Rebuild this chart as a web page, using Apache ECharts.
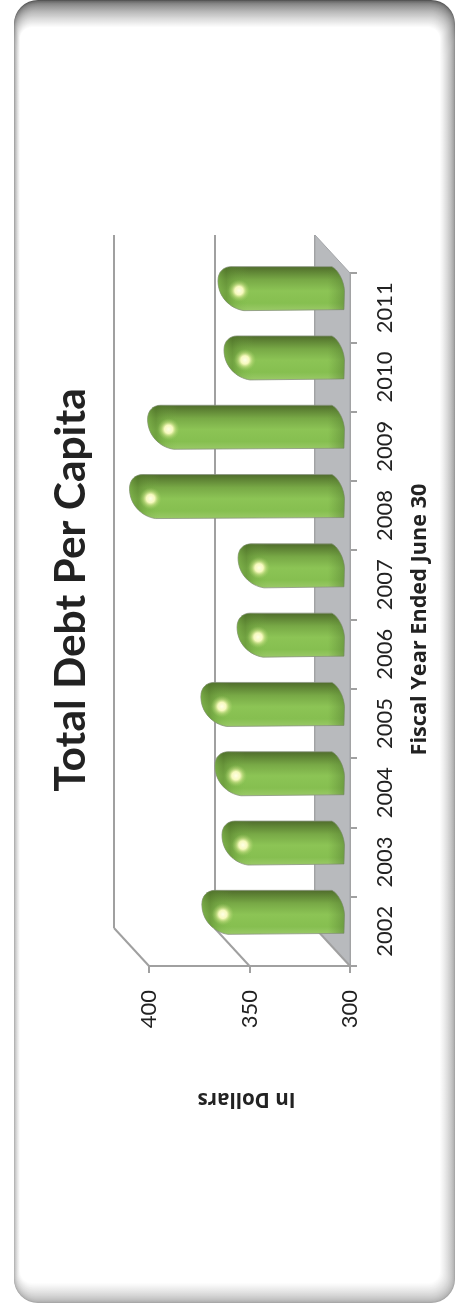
<!DOCTYPE html>
<html><head><meta charset="utf-8">
<style>html,body{margin:0;padding:0;background:#fff}#c{width:455px;height:1303px}</style>
<script src="https://cdn.jsdelivr.net/npm/echarts@6/dist/echarts.min.js"></script>
</head><body><div id="c"></div>
<script>
const categories = ['2002','2003','2004','2005','2006','2007','2008','2009','2010','2011'];
const debtPerCapita = [362, 352, 355.5, 362.5, 344.5, 344, 398, 389, 351, 354];
const valueTicks = [300, 350, 400];
const titleText = 'Total Debt Per Capita';
const xName = 'Fiscal Year Ended June 30';
const yName = 'In Dollars';

const W = 455, H = 1303;
const front = {x0: 149, x1: 350, y0: 273, y1: 966};
const depth = {dx: -35, dy: -38};
const mk = (dx, dy) => ({left: front.x0 + dx, width: front.x1 - front.x0, top: front.y0 + dy, height: front.y1 - front.y0});

function barItem(params, api) {
  const v = api.value(0), c = api.value(1);
  const p = api.coord([v, c]);
  const base = params.coordSys.x + params.coordSys.width + 11.5;
  const tip = p[0] - 6;
  const h = 44, top = p[1] - h / 2, bot = top + h;
  const d = `M${tip + 13} ${top}
    L${base - 12} ${top} C${base - 6} ${top + 3} ${base} ${top + 14} ${base + 0.5} ${top + 24}
    L${base} ${bot - 1} L${tip + 26} ${bot}
    C${tip + 12} ${bot - 2} ${tip} ${top + 30} ${tip} ${top + 14}
    C${tip} ${top + 5} ${tip + 6} ${top} ${tip + 13} ${top} Z`;
  const shape = {pathData: d, layout: 'cover', x: tip, y: top, width: base + 0.5 - tip, height: h};
  return {type: 'group', children: [
    {type: 'path', shape, style: {
      stroke: '#8a9480', lineWidth: 0.8,
      fill: new echarts.graphic.LinearGradient(0, 0, 0, 1, [
        {offset: 0, color: '#4f6a2c'}, {offset: 0.1, color: '#5c8033'}, {offset: 0.3, color: '#78a946'},
        {offset: 0.55, color: '#8cc455'}, {offset: 0.82, color: '#86bf50'}, {offset: 1, color: '#9bca68'}])}},
    {type: 'path', shape, style: {
      fill: new echarts.graphic.LinearGradient(tip, 0, tip + 30, 0, [
        {offset: 0, color: 'rgba(120,170,70,0.6)'}, {offset: 0.28, color: 'rgba(80,120,40,0.45)'},
        {offset: 0.6, color: 'rgba(100,150,55,0.18)'}, {offset: 1, color: 'rgba(120,180,70,0)'}], true)}},
    {type: 'path', shape, style: {
      fill: new echarts.graphic.LinearGradient(base - 16, 0, base, 0, [
        {offset: 0, color: 'rgba(90,130,50,0)'}, {offset: 1, color: 'rgba(85,125,50,0.5)'}], true)}},
    {type: 'circle', shape: {cx: tip + 21, cy: top + 24, r: 11}, style: {
      fill: new echarts.graphic.RadialGradient(0.5, 0.5, 0.5, [
        {offset: 0, color: 'rgba(255,255,230,1)'}, {offset: 0.38, color: 'rgba(252,252,195,0.95)'},
        {offset: 0.65, color: 'rgba(220,235,150,0.45)'}, {offset: 1, color: 'rgba(170,210,110,0)'}])}}
  ]};
}

function floorItem(params, api) {
  const cs = params.coordSys, x = cs.x + cs.width, y0 = cs.y, y1 = cs.y + cs.height;
  return {type: 'polygon', shape: {points: [[x, y1], [x, y0], [x + depth.dx, y0 + depth.dy], [x + depth.dx, y1 + depth.dy]]},
    style: {fill: '#b8babd', stroke: '#a3a5a8', lineWidth: 1}};
}
function diagItem(params, api) {
  const p = api.coord([api.value(0), 0]);
  const y1 = params.coordSys.y + params.coordSys.height;
  return {type: 'line', shape: {x1: p[0], y1: y1, x2: p[0] + depth.dx, y2: y1 + depth.dy},
    style: {stroke: '#a0a0a0', lineWidth: 2}};
}

// soft bevelled frame: concentric rounded rectangles fading to white
function mix(g, t) { const c = Math.round(g + (255 - g) * t); return `rgb(${c},${c},${c})`; }
const frame = [];
const STEPS = 28;
for (let i = 0; i <= STEPS; i++) {
  const t = i / STEPS, e = Math.pow(t, 0.62);
  const l = 14 + t * 6, tp = t * 27, r = t * 15, b = t * 20;
  frame.push({type: 'rect', z: -10, silent: true,
    shape: {x: l, y: tp, width: W - l - r, height: H - tp - b, r: Math.max(6, 24 - t * 12)},
    style: {fill: new echarts.graphic.LinearGradient(0, 0, 0, 1, [
      {offset: 0, color: mix(85, e)}, {offset: 0.03, color: mix(140, e)}, {offset: 1, color: mix(165, e)}])}});
}

const font = 'Lato', font2 = '"Open Sans"';
const chart = echarts.init(document.getElementById('c'), null, {renderer: 'canvas', width: W, height: H});
chart.setOption({
  animation: false,
  backgroundColor: '#ffffff',
  graphic: frame.concat([
    {type: 'text', z: 10, x: 71, y: 590, rotation: Math.PI / 2, style: {
      text: titleText, fill: '#222', font: 'bold 42.5px ' + font, align: 'center', verticalAlign: 'middle'}}
  ]),
  grid: [mk(0, 0), mk(depth.dx, depth.dy), mk(depth.dx / 2, depth.dy / 2)],
  xAxis: [
    {gridIndex: 0, type: 'value', inverse: true, min: 300, max: 400, interval: 50, position: 'bottom',
      axisLine: {show: true, lineStyle: {color: '#a0a0a0', width: 2}},
      axisTick: {show: true, length: 7, lineStyle: {color: '#a0a0a0', width: 2}},
      axisLabel: {rotate: 90, margin: 24, fontFamily: font, fontSize: 22, color: '#222'},
      splitLine: {show: false},
      name: yName, nameLocation: 'middle', nameRotate: 180, nameGap: 122,
      nameTextStyle: {fontFamily: font2, fontWeight: 'bold', fontSize: 20.5, color: '#222', padding: [0, 0, 0, 6]}},
    {gridIndex: 1, type: 'value', inverse: true, min: 300, max: 400, interval: 50, position: 'bottom',
      axisLine: {show: false}, axisTick: {show: false}, axisLabel: {show: false},
      splitLine: {show: true, lineStyle: {color: '#a0a0a0', width: 2}}},
    {gridIndex: 2, type: 'value', inverse: true, min: 300, max: 400, show: false}
  ],
  yAxis: [
    {gridIndex: 0, type: 'category', data: categories, position: 'right',
      axisLine: {show: true, onZero: false, lineStyle: {color: '#a0a0a0', width: 2}},
      axisTick: {show: true, length: 7, alignWithLabel: false, lineStyle: {color: '#a0a0a0', width: 2}},
      axisLabel: {rotate: 90, margin: 24, interval: 0, fontFamily: font, fontSize: 22, color: '#222'},
      splitLine: {show: false},
      name: xName, nameLocation: 'middle', nameRotate: 90, nameGap: 59,
      nameTextStyle: {fontFamily: font2, fontWeight: 'bold', fontSize: 21.7, color: '#222'}},
    {gridIndex: 1, type: 'category', data: categories, show: false},
    {gridIndex: 2, type: 'category', data: categories, show: false}
  ],
  series: [
    {type: 'custom', name: 'floor', xAxisIndex: 0, yAxisIndex: 0, z: 1, silent: true, data: [[300, 0]], renderItem: floorItem, encode: {x: 0, y: 1}},
    {type: 'custom', name: 'depth', xAxisIndex: 0, yAxisIndex: 0, z: 2, silent: true, data: valueTicks.map(v => [v, 0]), renderItem: diagItem, encode: {x: 0, y: 1}},
    {type: 'custom', name: 'Total Debt Per Capita', xAxisIndex: 2, yAxisIndex: 2, z: 5, silent: true,
      data: debtPerCapita.map((v, i) => [v, i]), renderItem: barItem, encode: {x: 0, y: 1}, clip: false}
  ]
});
</script></body></html>
